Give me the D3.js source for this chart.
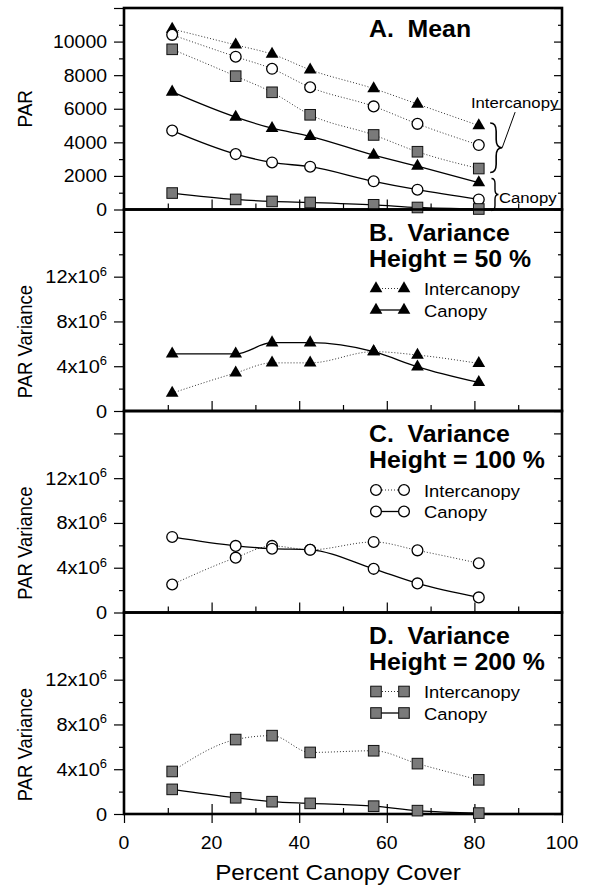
<!DOCTYPE html>
<html><head><meta charset="utf-8">
<script src="https://cdn.jsdelivr.net/npm/d3@7"></script>
<style>
body{margin:0;background:#fff}
svg{display:block}
text{font-family:"Liberation Sans",Arial,sans-serif;fill:#000}
</style>
</head><body>
<svg id="c" width="589" height="896"></svg>
<script>
// ---------- data ----------
const cover = [11, 25.5, 33.8, 42.5, 57, 67, 81];            // Percent canopy cover
// Panel A: mean PAR
const meanTriInter  = [10750, 9800, 9250, 8320, 7200, 6280, 5000];
const meanCircInter = [10400, 9100, 8380, 7280, 6140, 5100, 3840];
const meanSqInter   = [9540, 7940, 6980, 5640, 4440, 3440, 2440];
const meanTriCanopy = [7000, 5500, 4840, 4360, 3240, 2580, 1600];
const meanCircCanopy= [4700, 3300, 2800, 2550, 1680, 1180, 600];
const meanSqCanopy  = [980, 600, 480, 420, 280, 120, 30];
// Panels B-D: PAR variance (x10^6)
const var50Inter   = [1.6, 3.4, 4.3, 4.3, 5.3, 5.0, 4.25];
const var50Canopy  = [5.1, 5.1, 6.1, 6.1, 5.3, 3.95, 2.55];
const var100Inter  = [2.5, 4.9, 5.95, 5.6, 6.3, 5.55, 4.4];
const var100Canopy = [6.75, 5.95, 5.7, 5.6, 3.9, 2.6, 1.35];
const var200Inter  = [3.8, 6.65, 7.0, 5.5, 5.65, 4.5, 3.05];
const var200Canopy = [2.2, 1.45, 1.1, 0.95, 0.7, 0.3, 0.08];
// ticks / labels
const xTickLabels = [0, 20, 40, 60, 80, 100];
const parTickLabels = [0, 2000, 4000, 6000, 8000, 10000];
const varTickLabels = [0, 4, 8, 12];
const legendNames = ["Intercanopy", "Canopy"];
const titlesA = ["A.  Mean"];
const titlesB = ["B.  Variance", "Height = 50 %"];
const titlesC = ["C.  Variance", "Height = 100 %"];
const titlesD = ["D.  Variance", "Height = 200 %"];

// ---------- layout ----------
const L = 124, R = 562, TOP = 8, PH = 201.5, SX = 1.08;
const svg = d3.select("#c");
const x = d3.scaleLinear().domain([0, 100]).range([L, R]);

function T(parent, px, py, str, size, opt = {}) {
  const g = parent.append("g").attr("transform",
    `translate(${px},${py}) scale(${SX},1)` + (opt.rot ? ` rotate(${opt.rot})` : ""));
  const t = g.append("text").attr("font-size", size)
    .attr("font-weight", opt.bold ? "bold" : "normal")
    .attr("text-anchor", opt.anchor || "start")
    .style("white-space", "pre");
  if (str != null) t.text(str);
  return t;
}

function marker(g, type, cx, cy) {
  if (type === "tri") {
    g.append("path").attr("d", d3.symbol(d3.symbolTriangle, 70)())
      .attr("transform", `translate(${cx},${cy})`).attr("fill", "#000");
  } else if (type === "circ") {
    g.append("circle").attr("cx", cx).attr("cy", cy).attr("r", 5.4)
      .attr("fill", "#fff").attr("stroke", "#000").attr("stroke-width", 1.3);
  } else {
    g.append("rect").attr("x", cx - 5.3).attr("y", cy - 5.3).attr("width", 10.6).attr("height", 10.6)
      .attr("fill", "#7a7a7a").attr("stroke", "#111").attr("stroke-width", 1);
  }
}

const panels = [
  { max: 12000, titles: titlesA, legend: null, series: [
      { v: meanTriInter, m: "tri", dot: true }, { v: meanCircInter, m: "circ", dot: true },
      { v: meanSqInter, m: "sq", dot: true }, { v: meanTriCanopy, m: "tri", dot: false },
      { v: meanCircCanopy, m: "circ", dot: false }, { v: meanSqCanopy, m: "sq", dot: false } ] },
  { max: 18, titles: titlesB, legend: "tri", series: [
      { v: var50Inter, m: "tri", dot: true }, { v: var50Canopy, m: "tri", dot: false } ] },
  { max: 18, titles: titlesC, legend: "circ", series: [
      { v: var100Inter, m: "circ", dot: true }, { v: var100Canopy, m: "circ", dot: false } ] },
  { max: 18, titles: titlesD, legend: "sq", series: [
      { v: var200Inter, m: "sq", dot: true }, { v: var200Canopy, m: "sq", dot: false } ] }
];

function styleAxis(a) {
  a.select(".domain").remove();
  a.selectAll("line").attr("stroke", "#000").attr("stroke-width", 1.2);
}

panels.forEach((p, i) => {
  const top = TOP + i * PH, bot = top + PH;
  const y = d3.scaleLinear().domain([0, p.max]).range([bot, top]);
  const g = svg.append("g");
  const isA = i === 0;
  const majStep = isA ? 2000 : 4, minStep = isA ? 1000 : 2;
  const majors = d3.range(0, p.max + 1e-6, majStep);
  const minors = d3.range(minStep, p.max, majStep);

  // left ticks (outside)
  g.append("g").attr("transform", `translate(${L},0)`)
    .call(d3.axisLeft(y).tickValues(majors).tickSize(10).tickFormat("")).call(styleAxis);
  g.append("g").attr("transform", `translate(${L},0)`)
    .call(d3.axisLeft(y).tickValues(minors).tickSize(5).tickFormat("")).call(styleAxis);
  // right ticks (inside)
  g.append("g").attr("transform", `translate(${R},0)`)
    .call(d3.axisLeft(y).tickValues(majors).tickSize(8).tickFormat("")).call(styleAxis);
  g.append("g").attr("transform", `translate(${R},0)`)
    .call(d3.axisLeft(y).tickValues(minors).tickSize(4).tickFormat("")).call(styleAxis);
  // bottom ticks (inside)
  g.append("g").attr("transform", `translate(0,${bot})`)
    .call(d3.axisTop(x).tickValues([20, 40, 60, 80]).tickSize(10).tickFormat("")).call(styleAxis);
  g.append("g").attr("transform", `translate(0,${bot})`)
    .call(d3.axisTop(x).tickValues([10, 30, 50, 70, 90]).tickSize(6).tickFormat("")).call(styleAxis);
  if (i === panels.length - 1) {
    g.append("g").attr("transform", `translate(0,${bot})`)
      .call(d3.axisBottom(x).tickValues(xTickLabels).tickSize(9).tickFormat("")).call(styleAxis);
  }

  // tick labels
  if (isA) {
    parTickLabels.forEach(v => T(svg, L - 17, y(v) + 6.5, String(v), 18, { anchor: "end" }));
  } else {
    varTickLabels.forEach(v => {
      const t = T(svg, L - 17, y(v) + 6.5, null, 18.5, { anchor: "end" });
      if (v === 0) t.text("0");
      else {
        t.append("tspan").text(v + "x10");
        t.append("tspan").attr("font-size", 12).attr("dy", -7.5).text("6");
      }
    });
  }

  // frame
  g.append("rect").attr("x", L).attr("y", top).attr("width", R - L).attr("height", PH)
    .attr("fill", "none").attr("stroke", "#000").attr("stroke-width", 2.6);

  // lines
  const line = d3.line().x((d, j) => x(cover[j])).y(d => y(d)).curve(d3.curveMonotoneX);
  p.series.forEach(s => {
    g.append("path").attr("d", line(s.v)).attr("fill", "none")
      .attr("stroke", s.dot ? "#333" : "#000").attr("stroke-width", s.dot ? 1 : 1.3)
      .attr("stroke-dasharray", s.dot ? "1,2" : null);
  });
  p.series.forEach(s => s.v.forEach((d, j) => marker(g, s.m, x(cover[j]), y(d))));

  // titles
  T(svg, 369, top + (isA ? 29 : 31), p.titles[0], 23, { bold: true });
  if (p.titles[1]) T(svg, 369, top + 57, p.titles[1], 23, { bold: true });

  // legend
  if (p.legend) {
    legendNames.forEach((name, k) => {
      const cy = top + 79 + k * 21.5;
      g.append("line").attr("x1", 376).attr("x2", 404).attr("y1", cy).attr("y2", cy)
        .attr("stroke", k === 0 ? "#333" : "#000").attr("stroke-width", k === 0 ? 1 : 1.3)
        .attr("stroke-dasharray", k === 0 ? "1,2" : null);
      marker(g, p.legend, 376, cy);
      marker(g, p.legend, 404, cy);
      T(svg, 424, cy + 6.5, name, 17);
    });
  }

  // y-axis title
  T(svg, 32, isA ? (top + bot) / 2 : y(6.2), isA ? "PAR" : "PAR Variance", isA ? 19 : 18.5,
    { rot: -90, anchor: "middle" });

  // annotations in panel A
  if (isA) {
    const brace = (x0, y1, y2, w) => {
      const xm = x0 + w * 0.5, ym = (y1 + y2) / 2, xt = x0 + w;
      const r = Math.min(w * 0.7, (y2 - y1) / 6);
      return `M${x0},${y1} Q${xm},${y1} ${xm},${y1 + r} L${xm},${ym - r} Q${xm},${ym} ${xt},${ym} ` +
             `Q${xm},${ym} ${xm},${ym + r} L${xm},${y2 - r} Q${xm},${y2} ${x0},${y2}`;
    };
    g.append("path").attr("d", brace(x(83.6), y(5150), y(2200), 12))
      .attr("fill", "none").attr("stroke", "#000").attr("stroke-width", 1.6);
    g.append("line").attr("x1", x(83.6) + 12).attr("y1", y(3675)).attr("x2", x(89.3)).attr("y2", y(5800))
      .attr("stroke", "#000").attr("stroke-width", 1);
    T(svg, x(79.2), y(6050), legendNames[0], 15.5);
    g.append("path").attr("d", brace(x(83.9), y(1850), y(-60), 7))
      .attr("fill", "none").attr("stroke", "#000").attr("stroke-width", 1.4);
    T(svg, x(85.6), y(360), legendNames[1], 15.5);
  }
});

// x tick labels & title
xTickLabels.forEach(v => T(svg, x(v), 849, String(v), 18, { anchor: "middle" }));
T(svg, 338, 880, "Percent Canopy Cover", 22.5, { anchor: "middle" });
</script>
</body></html>
